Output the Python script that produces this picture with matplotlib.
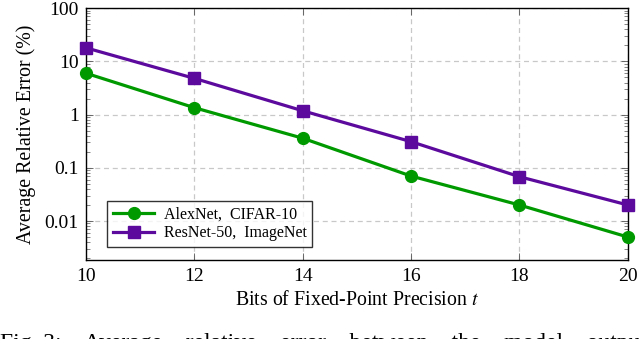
import matplotlib
matplotlib.use("Agg")
import matplotlib.pyplot as plt
from matplotlib.ticker import FixedLocator, FixedFormatter, LogLocator, NullFormatter

plt.rcParams['font.family'] = ['Liberation Serif', 'DejaVu Serif']
plt.rcParams['mathtext.fontset'] = 'stix'

# data
bits = [10, 12, 14, 16, 18, 20]
alexnet_err = [6.0, 1.35, 0.36, 0.07, 0.02, 0.005]
resnet_err = [18.0, 4.8, 1.18, 0.31, 0.068, 0.02]
series_labels = ['AlexNet,  CIFAR-10', 'ResNet-50,  ImageNet']
y_ticks = [0.01, 0.1, 1, 10, 100]
y_tick_labels = ['0.01', '0.1', '1', '10', '100']

green = '#009a00'
purple = '#5c0a9e'

fig = plt.figure(figsize=(6.4, 3.39), dpi=100)
ax = fig.add_axes([0.134, 0.233, 0.847, 0.743])

ax.plot(bits, alexnet_err, color=green, lw=2.3, marker='o', ms=8.5,
        label=series_labels[0], zorder=3, clip_on=False)
ax.plot(bits, resnet_err, color=purple, lw=2.3, marker='s', ms=8,
        label=series_labels[1], zorder=3, clip_on=False)

ax.set_yscale('log')
ax.set_ylim(0.00185, 100)
ax.set_xlim(10, 20)
ax.set_xticks(bits)
ax.yaxis.set_major_locator(FixedLocator(y_ticks))
ax.yaxis.set_major_formatter(FixedFormatter(y_tick_labels))
ax.yaxis.set_minor_locator(LogLocator(base=10, subs=range(2, 10), numticks=20))
ax.yaxis.set_minor_formatter(NullFormatter())

ax.grid(True, which='major', color='#c8c8c8', linestyle=(0, (4, 3)), lw=0.9)
ax.tick_params(which='both', direction='in', top=True, right=True,
               labelsize=14, color='#555555')
ax.tick_params(which='major', length=5, width=0.6)
ax.tick_params(which='minor', length=3, width=0.5)
ax.tick_params(axis='x', pad=6)
ax.tick_params(axis='y', pad=5)
for s in ax.spines.values():
    s.set_linewidth(1.0)

ax.set_xlabel('Bits of Fixed-Point Precision $t$', fontsize=14.3, labelpad=4)
ax.set_ylabel('Average Relative Error (%)', fontsize=14.3, labelpad=6)

leg = ax.legend(loc='lower left', bbox_to_anchor=(0.025, 0.02), fontsize=11.5,
                frameon=True, fancybox=False, edgecolor='black',
                handlelength=2.6, borderpad=0.35, labelspacing=0.2,
                handletextpad=0.6)
leg.get_frame().set_linewidth(1.0)

# caption of the figure, cut off at the bottom edge as in the source
fig.text(0.0, -0.03,
         'Fig. 3:    Average    relative    error    between    the    model    output',
         fontsize=17, ha='left', va='baseline')

fig.savefig('out.png', dpi=100)
